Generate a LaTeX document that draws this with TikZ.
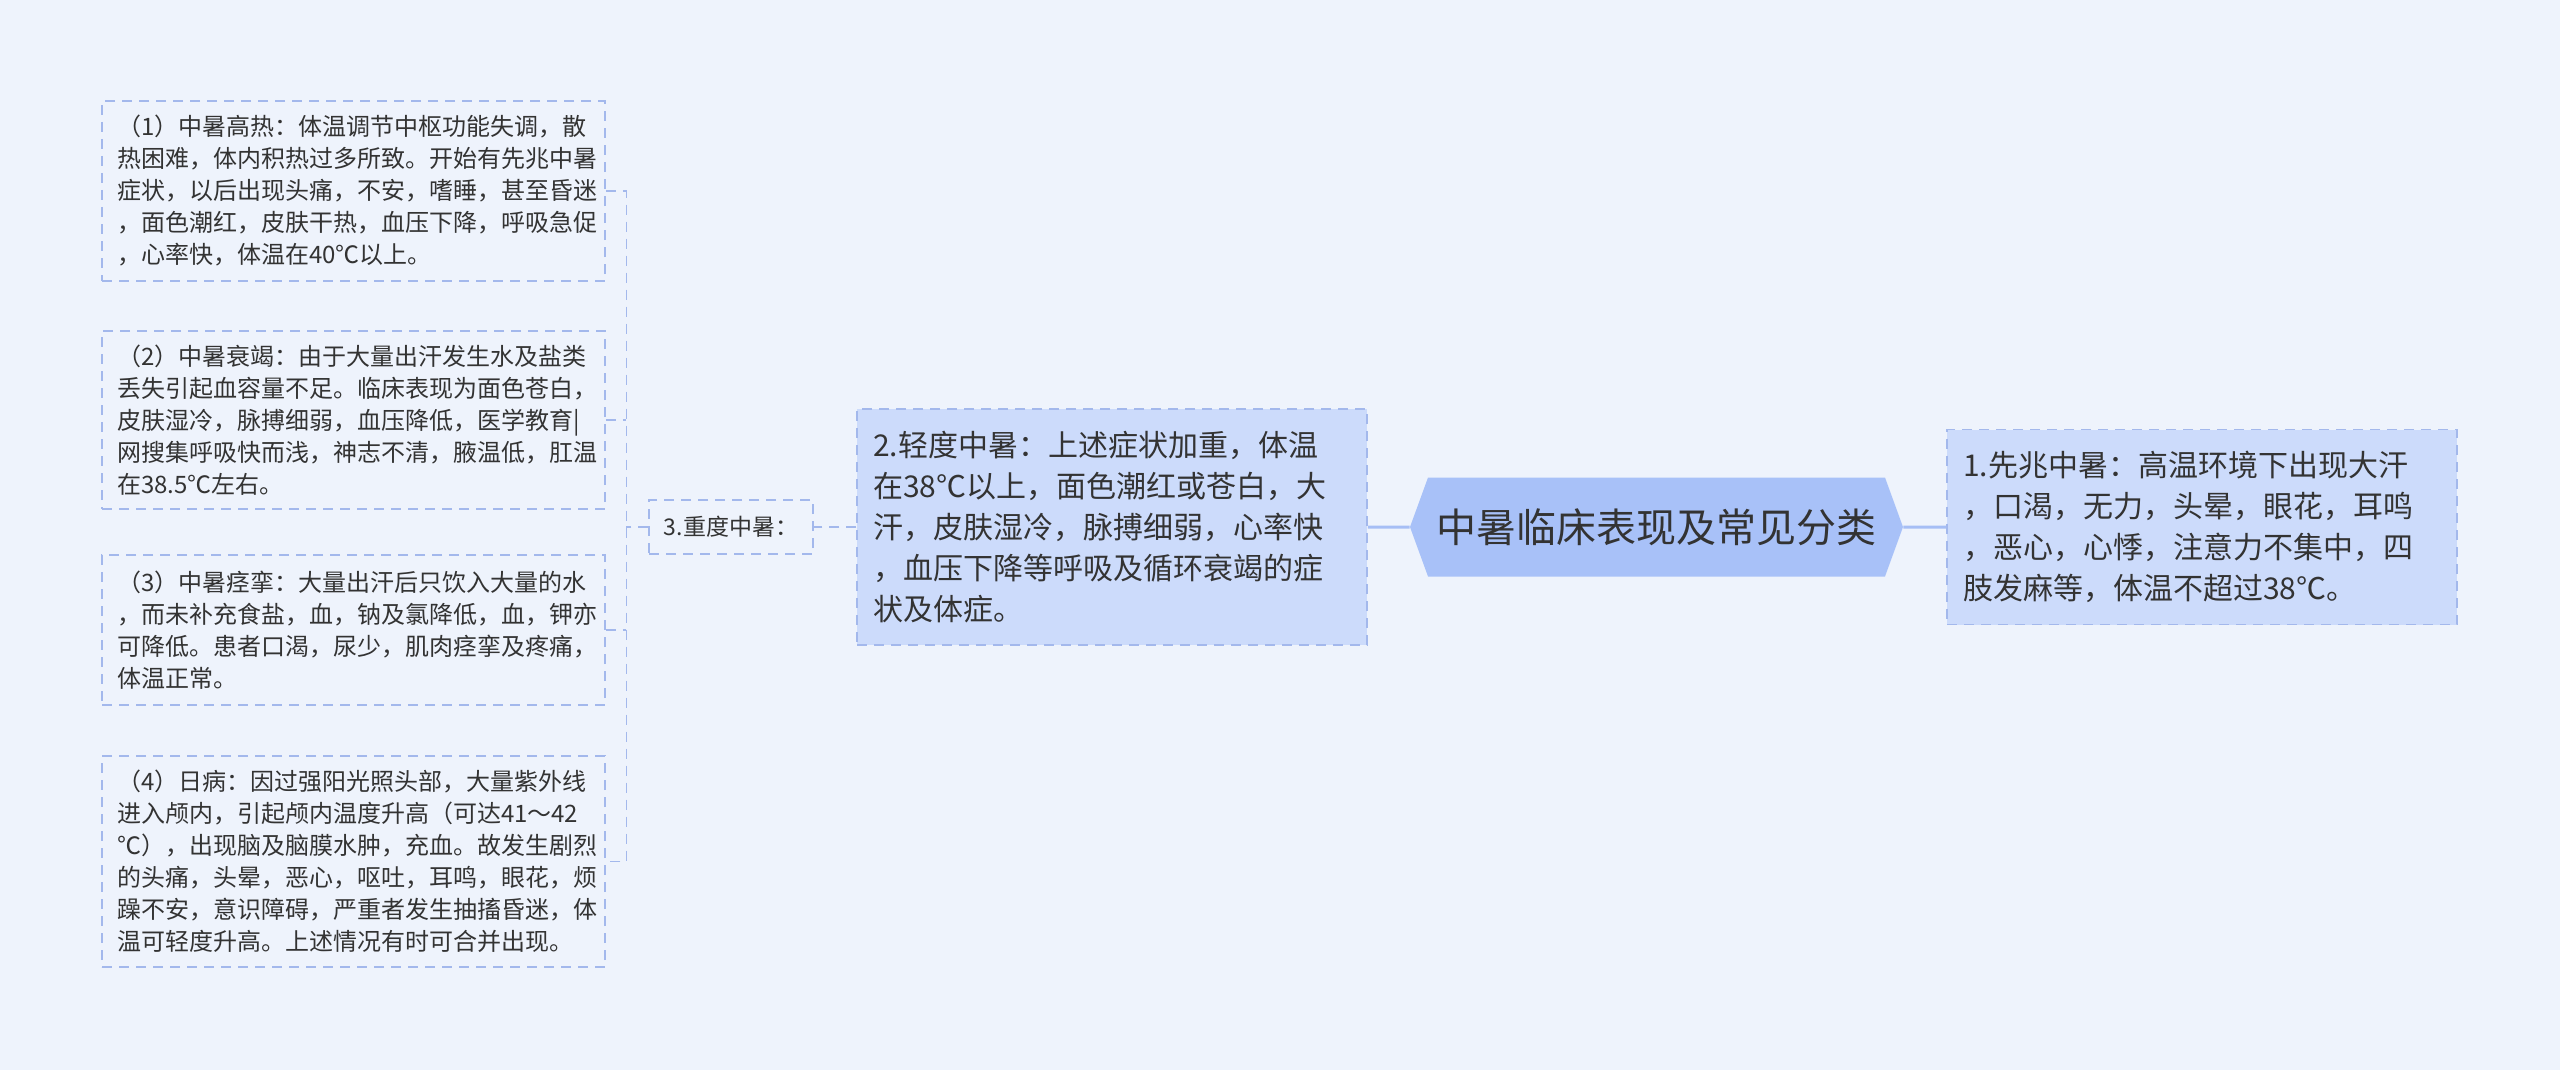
\documentclass[tikz,border=0pt]{standalone}
\usepackage{fontspec}
\setmainfont{Noto Sans CJK SC}
\usetikzlibrary{shapes.symbols}

\definecolor{bgcol}{HTML}{EEF3FC}
\definecolor{topicfill}{HTML}{A8C1F8}
\definecolor{subfill}{HTML}{CCDBFB}
\definecolor{edgecol}{HTML}{A3B8EC}
\definecolor{linecol}{HTML}{A6BEF5}
\definecolor{textcol}{HTML}{333333}

\tikzset{
  topic/.style={shape=signal, signal to=west and east, signal pointer angle=140,
    fill=topicfill, text=textcol, minimum width=246.5pt, minimum height=49.5pt,
    inner sep=0pt, font=\fontsize{20}{24}\selectfont},
  sub/.style={draw=edgecol, line width=0.75pt, dash pattern=on 5pt off 3.5pt,
    fill=subfill, text=textcol, inner xsep=8pt, inner ysep=0pt,
    text width=239pt, align=left, font=\fontsize{15}{20.5}\selectfont},
  mid/.style={draw=edgecol, line width=0.75pt, dash pattern=on 5pt off 3.5pt,
    text=textcol, minimum width=82pt, minimum height=27pt, inner sep=0pt,
    font=\fontsize{11.5}{14}\selectfont},
  leaf/.style={draw=edgecol, line width=0.75pt, dash pattern=on 5pt off 3.5pt,
    text=textcol, inner xsep=7.5pt, inner ysep=0pt,
    text width=236.5pt, align=left, font=\fontsize{12}{16}\selectfont},
  trunk/.style={draw=linecol, line width=1.5pt},
  twig/.style={draw=edgecol, line width=0.75pt, dash pattern=on 5pt off 3.5pt}
}

\begin{document}
\begin{tikzpicture}[x=0.5pt, y=-0.5pt]

\fill[bgcol] (0,0) rectangle (2560,1070);

\node[topic] (T) at (1656.5,527) {中暑临床表现及常见分类};

\node[sub, minimum height=97.5pt] (S1) at (2202,527) {1.先兆中暑：高温环境下出现大汗\\，口渴，无力，头晕，眼花，耳鸣\\，恶心，心悸，注意力不集中，四\\肢发麻等，体温不超过38℃。};

\node[sub, minimum height=118pt] (S2) at (1112,527) {2.轻度中暑：上述症状加重，体温\\在38℃以上，面色潮红或苍白，大\\汗，皮肤湿冷，脉搏细弱，心率快\\，血压下降等呼吸及循环衰竭的症\\状及体症。};

\node[mid] (S3) at (731,527) {3.重度中暑：};

\node[leaf, minimum height=90pt] (L1) at (353.5,191) {（1）中暑高热：体温调节中枢功能失调，散\\热困难，体内积热过多所致。开始有先兆中暑\\症状，以后出现头痛，不安，嗜睡，甚至昏迷\\，面色潮红，皮肤干热，血压下降，呼吸急促\\，心率快，体温在40℃以上。};
\node[leaf, minimum height=89pt] (L2) at (353.5,420) {（2）中暑衰竭：由于大量出汗发生水及盐类\\丢失引起血容量不足。临床表现为面色苍白，\\皮肤湿冷，脉搏细弱，血压降低，医学教育|\\网搜集呼吸快而浅，神志不清，腋温低，肛温\\在38.5℃左右。};
\node[leaf, minimum height=75pt] (L3) at (353.5,630) {（3）中暑痉挛：大量出汗后只饮入大量的水\\，而未补充食盐，血，钠及氯降低，血，钾亦\\可降低。患者口渴，尿少，肌肉痉挛及疼痛，\\体温正常。};
\node[leaf, minimum height=105.5pt] (L4) at (353.5,861.5) {（4）日病：因过强阳光照头部，大量紫外线\\进入颅内，引起颅内温度升高（可达41～42\\℃），出现脑及脑膜水肿，充血。故发生剧烈\\的头痛，头晕，恶心，呕吐，耳鸣，眼花，烦\\躁不安，意识障碍，严重者发生抽搐昏迷，体\\温可轻度升高。上述情况有时可合并出现。};

\draw[trunk] (T) -- (S1);
\draw[trunk] (T) -- (S2);
\draw[twig] (S2) -- (S3);

\coordinate (bus) at ([xshift=-11pt]S3.west);
\draw[twig] (S3.west) -- (bus);
\draw[twig] (L1.east) -- (L1.east -| bus) -- (L4.east -| bus) -- (L4.east);
\draw[twig] (L2.east) -- (L2.east -| bus);
\draw[twig] (L3.east) -- (L3.east -| bus);

\end{tikzpicture}
\end{document}
